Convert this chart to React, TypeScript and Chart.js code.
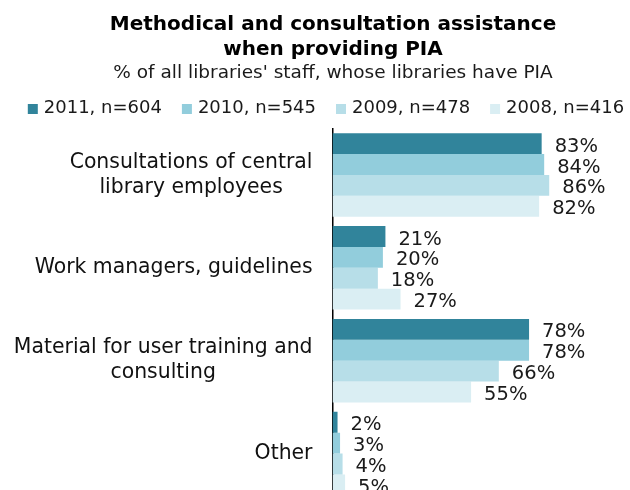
import React, { useEffect, useRef } from "react";
import { Chart, registerables } from "chart.js";

Chart.register(...registerables);

const titleLines = ["Methodical and consultation assistance", "when providing PIA"];
const subtitleText = "% of all libraries' staff, whose libraries have PIA";

const categories: (string | string[])[] = [
  ["Consultations of central", "library employees"],
  "Work managers, guidelines",
  ["Material for user training and", "consulting"],
  "Other",
];

const seriesNames = ["2011, n=604", "2010, n=545", "2009, n=478", "2008, n=416"];
const seriesColors = ["#31849B", "#92CDDC", "#B7DEE8", "#DAEEF3"];

const values2011 = [83, 21, 78, 2];
const values2010 = [84, 20, 78, 3];
const values2009 = [86, 18, 66, 4];
const values2008 = [82, 27, 55, 5];

const FONT = '"DejaVu Sans", Verdana, sans-serif';

const overlayPlugin = {
  id: "overlayText",
  afterDraw(chart: any) {
    const ctx = chart.ctx as CanvasRenderingContext2D;
    const area = chart.chartArea;
    const yScale = chart.scales.y;
    ctx.save();

    // category labels: block right-aligned, lines centred within block
    const LINE = 25;
    ctx.font = `20.4px ${FONT}`;
    ctx.fillStyle = "#111";
    ctx.textBaseline = "middle";
    ctx.textAlign = "center";
    (chart.data.labels as any[]).forEach((lab, i) => {
      const lines: string[] = Array.isArray(lab) ? lab : [lab];
      const yc = yScale.getPixelForTick(i);
      const y0 = yc - ((lines.length - 1) * LINE) / 2;
      const w = Math.max(...lines.map((l) => ctx.measureText(l).width));
      const cx = area.left - 20 - w / 2;
      lines.forEach((l, j) => ctx.fillText(l, cx, y0 + j * LINE));
    });

    // value labels
    ctx.font = `19.5px ${FONT}`;
    ctx.textAlign = "left";
    ctx.fillStyle = "#1a1a1a";
    chart.data.datasets.forEach((ds: any, di: number) => {
      const meta = chart.getDatasetMeta(di);
      meta.data.forEach((bar: any, i: number) => {
        ctx.fillText(`${ds.data[i]}%`, bar.x + 13, bar.y + 3);
      });
    });

    // legend
    ctx.font = `18px ${FONT}`;
    const BOX = 10;
    const GAP_TEXT = 6;
    const GAP_ITEM = 20;
    const widths = chart.data.datasets.map((ds: any) => ctx.measureText(ds.label).width);
    const total =
      widths.reduce((a: number, w: number) => a + BOX + GAP_TEXT + w, 0) +
      GAP_ITEM * (widths.length - 1);
    let x = chart.width / 2 + 11 - total / 2;
    const boxTop = area.top - 24.5;
    chart.data.datasets.forEach((ds: any, di: number) => {
      ctx.fillStyle = ds.backgroundColor;
      ctx.fillRect(x, boxTop, BOX, BOX);
      ctx.fillStyle = "#1a1a1a";
      ctx.textAlign = "left";
      ctx.fillText(ds.label, x + BOX + GAP_TEXT, boxTop + 4.5);
      x += BOX + GAP_TEXT + widths[di] + GAP_ITEM;
    });

    ctx.restore();
  },
};

export default function App() {
  const ref = useRef<HTMLCanvasElement>(null);

  useEffect(() => {
    if (!ref.current) return;
    const seriesValues = [values2011, values2010, values2009, values2008];
    const chart = new Chart(ref.current, {
      type: "bar",
      data: {
        labels: categories,
        datasets: seriesNames.map((name, i) => ({
          label: name,
          data: seriesValues[i],
          backgroundColor: seriesColors[i],
          borderWidth: 0,
          categoryPercentage: 0.9,
          barPercentage: 1,
        })),
      },
      options: {
        indexAxis: "y",
        animation: false,
        responsive: false,
        devicePixelRatio: 1,
        events: [],
        layout: { padding: { top: 12.5, left: 81.5, right: 45.5, bottom: 0 } },
        plugins: {
          legend: { display: false },
          tooltip: { enabled: false },
          title: {
            display: true,
            text: titleLines,
            color: "#000",
            font: { family: FONT, size: 20, weight: "bold", lineHeight: 1.25 },
            padding: { top: 0, bottom: 0 },
          },
          subtitle: {
            display: true,
            text: subtitleText,
            color: "#1a1a1a",
            font: { family: FONT, size: 18.5, lineHeight: 1.2 },
            padding: { top: 0, bottom: 43.8 },
          },
        },
        scales: {
          x: { display: false, min: 0, max: 100 },
          y: {
            type: "category",
            grid: { display: false, drawTicks: false },
            border: { display: true, color: "#000", width: 1.5 },
            ticks: { display: false },
            afterFit: (scale: any) => {
              scale.width = 251;
            },
          },
        },
      },
      plugins: [overlayPlugin],
    });
    return () => chart.destroy();
  }, []);

  return (
    <div
      style={{
        position: "fixed",
        left: 0,
        top: 0,
        width: 630,
        height: 490,
        overflow: "hidden",
        background: "#fff",
      }}
    >
      <canvas ref={ref} width={630} height={500} style={{ width: 630, height: 500, display: "block" }} />
    </div>
  );
}
